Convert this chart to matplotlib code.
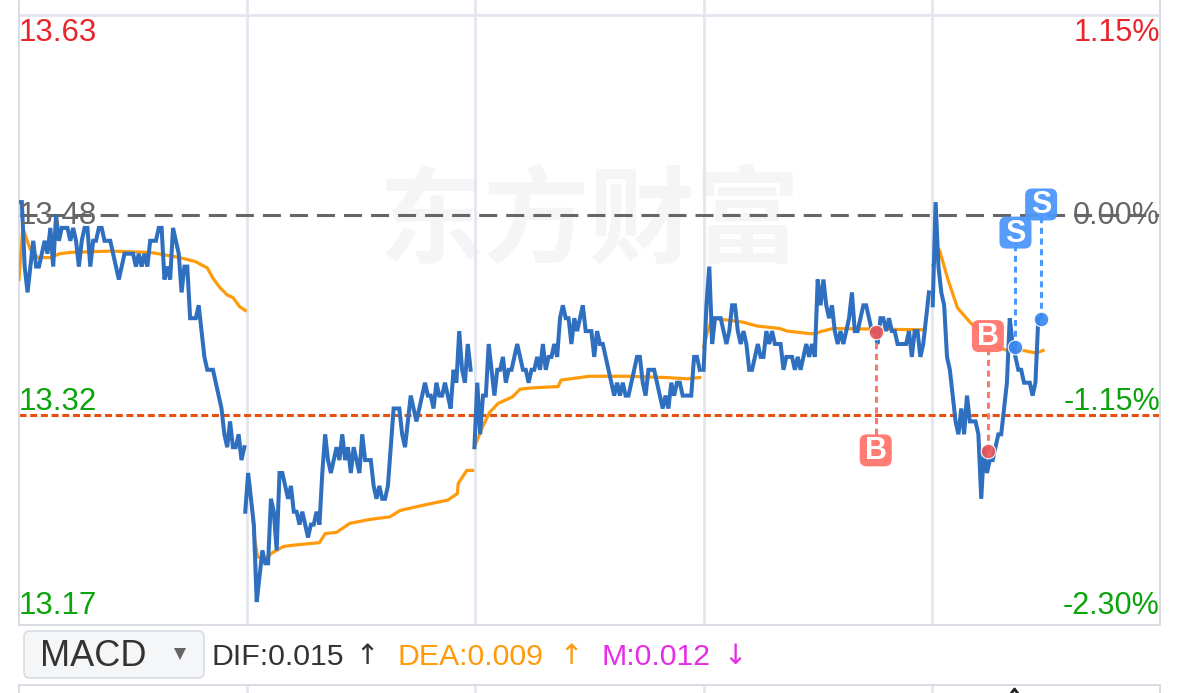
import numpy as np
import matplotlib
matplotlib.use("Agg")
import matplotlib.pyplot as plt
from matplotlib.patches import FancyBboxPatch

# cotizacion cada 3 minutos, en centimos sobre 13.00
day1 = [49, 49, 44, 42, 44, 46, 44, 44, 45, 46, 45, 47, 44, 48, 46, 47, 47, 47, 46, 47,
        46, 44, 46, 47, 47, 44, 46, 46, 47, 47, 46, 46, 46, 45, 44, 43, 44, 45, 45, 45,
        45, 44, 45, 44, 45, 44, 46, 46, 46, 47, 47, 43, 44, 43, 47, 46, 45, 42, 44, 44,
        40, 40, 40, 41, 39, 37, 36, 36, 36, 35, 34, 33, 31, 30, 32, 30, 30, 31, 29, 30]
day2 = [25, 28, 26, 24, 18, 20, 22, 21, 21, 26, 25, 22, 28, 28, 27, 26, 27, 25, 25, 24,
        25, 24, 23, 24, 24, 25, 24, 28, 31, 29, 28, 29, 30, 29, 31, 29, 30, 28, 30, 29,
        28, 31, 29, 29, 29, 27, 26, 27, 26, 26, 27, 30, 33, 33, 33, 31, 30, 32, 34, 33,
        32, 33, 34, 35, 34, 34, 33, 35, 34, 34, 35, 34, 33, 36, 35, 39, 36, 35, 38, 36]
day3 = [30, 35, 31, 34, 34, 38, 36, 34, 36, 36, 37, 35, 36, 36, 37, 38, 37, 36, 36, 35,
        36, 36, 37, 36, 38, 36, 37, 37, 38, 37, 40, 41, 40, 40, 38, 40, 39, 40, 41, 39,
        39, 39, 37, 39, 38, 38, 37, 36, 35, 34, 35, 34, 35, 34, 34, 35, 36, 37, 37, 35,
        34, 36, 36, 36, 35, 34, 33, 34, 33, 35, 34, 35, 35, 34, 34, 34, 34, 37, 37, 36]
day4 = [36, 41, 44, 38, 40, 40, 40, 39, 38, 39, 41, 41, 39, 38, 39, 38, 36, 36, 37, 38,
        37, 37, 39, 38, 39, 38, 38, 38, 36, 37, 37, 37, 36, 37, 36, 37, 38, 37, 38, 37,
        43, 41, 43, 41, 40, 41, 39, 38, 39, 38, 39, 40, 42, 39, 39, 40, 41, 41, 40, 39,
        39, 38, 40, 40, 39, 40, 39, 39, 38, 38, 38, 38, 39, 37, 39, 39, 37, 38, 40, 42]
day5 = [41, 49, 44, 42, 41, 37, 36, 34, 32, 31, 33, 31, 34, 32, 32, 32, 31, 26, 30, 28,
        29, 29, 30, 31, 31, 33, 35, 40, 38, 37, 36, 36, 35, 35, 35, 34, 35, 40]
price_days = [day1, day2, day3, day4, day5]
day_starts = [0, 238, 479, 720, 961]

# linea de precio medio: minuto / centimos
avg_min = [
    [0, 4, 12, 20, 33, 43, 54, 96, 138, 154, 169, 185, 198, 204, 211, 219, 225, 232, 238],
    [245, 248, 251, 259, 266, 278, 288, 316, 322, 334, 348, 369, 390, 401, 425, 451, 461, 462, 471, 477],
    [479, 487, 495, 504, 519, 527, 540, 567, 570, 590, 600, 639, 681, 703, 716],
    [720, 724, 729, 751, 761, 776, 800, 808, 832, 837, 845, 856, 951],
    [961, 968, 977, 987, 1000, 1011, 1028, 1039, 1056, 1070, 1077],
]
avg_cents = [
    [43.0, 47.0, 45.3, 44.7, 44.7, 45.0, 45.1, 45.2, 45.1, 44.9, 44.7, 44.4, 43.9, 43.1, 42.4, 41.8, 41.6, 40.9, 40.6],
    [25.3, 22.8, 21.5, 21.3, 21.8, 22.3, 22.4, 22.6, 23.3, 23.4, 24.1, 24.4, 24.6, 25.1, 25.5, 25.9, 26.4, 27.2, 28.2, 28.2],
    [30.0, 31.5, 32.7, 33.4, 33.9, 34.5, 34.6, 34.7, 35.2, 35.4, 35.5, 35.5, 35.4, 35.3, 35.4],
    [37.8, 38.9, 40.0, 39.8, 39.7, 39.4, 39.2, 39.0, 38.8, 38.8, 39.0, 39.2, 39.1],
    [44.1, 45.3, 43.0, 40.8, 39.7, 38.9, 37.8, 37.5, 37.5, 37.3, 37.5],
]

trade_min = [901, 1019, 1048, 1075]
trade_price = [13.389, 13.297, 13.378, 13.399]
trade_side = ['B', 'B', 'S', 'S']

prev_close = 13.48
ref_line = 13.325
top_price = 13.635
left_labels = ['13.63', '13.48', '13.32', '13.17']
right_labels = ['1.15%', '0.00%', '-1.15%', '-2.30%']
label_colors = ['#e8242c', '#666666', '#0da30d', '#0da30d']
day_lines = [240, 480, 720, 960]

W, H = 1179, 693
FONT = ['Liberation Sans', 'DejaVu Sans']
plt.rcParams['font.family'] = FONT

fig = plt.figure(figsize=(W / 100, H / 100), dpi=100)
px_per_cent = 12.9
ax = fig.add_axes([18.5 / W, (H - 625) / H, 1141.5 / W, 625 / H])
ax.set_xlim(-0.5, 1200)
ax.set_ylim(prev_close - (410 / px_per_cent) / 100, prev_close + (215 / px_per_cent) / 100)
ax.set_xticks([])
ax.set_yticks([])
ax.spines['top'].set_visible(False)
for s in ['left', 'right', 'bottom']:
    ax.spines[s].set_color('#d9dce3')
    ax.spines[s].set_linewidth(1.4)

# marca de agua
ax.text(0.5005, 0.6435, '东方财富', transform=ax.transAxes, ha='center', va='center',
        fontsize=76, fontweight='bold', color='#f5f5f5', family='Noto Sans CJK SC', zorder=0)

for m in day_lines:
    ax.axvline(m, ymin=0.005, color='#e3e6ee', lw=2, zorder=1)
ax.axhline(top_price, color='#e3e6ee', lw=2, zorder=1)

ax.axhline(prev_close, color='#666666', lw=2.2, ls=(0, (5.9, 2.95)), zorder=2)
ax.axhline(ref_line, color='#e8500f', lw=2.2, ls=(0, (2.3, 1.2)), zorder=2)

for start, vals, am, ac in zip(day_starts, price_days, avg_min, avg_cents):
    x = start + 3 * np.arange(len(vals))
    ax.plot(am, 13 + np.array(ac) / 100, color='#ff9a0a', lw=2.3, zorder=3, solid_joinstyle='round')
    ax.plot(x, 13 + np.array(vals) / 100, color='#2f6fc0', lw=2.9, zorder=4, solid_joinstyle='miter')

chrome = fig.add_axes([0, 0, 1, 1], facecolor='none')
chrome.set_xlim(0, W)
chrome.set_ylim(H, 0)
chrome.axis('off')

# etiquetas de los ejes
for ypx, lt, rt, c in zip([33, 216, 402, 606], left_labels, right_labels, label_colors):
    chrome.text(19, ypx, lt, color=c, fontsize=22.5, ha='left', va='center')
    chrome.text(1160, ypx, rt, color=c, fontsize=22, ha='right', va='center')

# senales de compra y venta
side_colors = {'B': ('#ff766c', '#e8575a'), 'S': ('#4d98fb', '#3a88f0')}
badge_off = [118, -115, -114, -115]
fig.canvas.draw()
for m, p, side, off in zip(trade_min, trade_price, trade_side, badge_off):
    badge, dot = side_colors[side]
    xp, yp = ax.transData.transform((m, p))
    yp = H - yp
    yb = yp + off
    chrome.plot([xp, xp], [yp, yb], color=badge, lw=2.2, ls=(0, (2, 1.5)), zorder=2)
    chrome.plot([xp], [yp], 'o', ms=10.5, mfc=dot, mec='white', mew=0.8, alpha=0.92, zorder=3)
    chrome.add_patch(FancyBboxPatch((xp - 16, yb - 16), 32, 32, boxstyle='round,pad=0,rounding_size=7',
                                    fc=badge, ec='none', alpha=0.95, zorder=4))
    chrome.text(xp, yb + 1, side, color='white', fontsize=22, fontweight='bold',
                ha='center', va='center', zorder=5)

# barra inferior con el selector MACD
chrome.add_patch(FancyBboxPatch((24, 631), 180, 47, boxstyle='round,pad=0,rounding_size=6',
                                fc='#f5f6f8', ec='#d8dbe0', lw=1.2))
chrome.text(40, 657, 'MACD', fontsize=26, color='#333333', ha='left', va='center')
chrome.plot([180], [654], 'v', ms=9, color='#666666', mew=0)
chrome.text(211, 657, 'DIF:0.015', fontsize=21.8, color='#333333', ha='left', va='center')
chrome.text(367, 656, '↑', fontsize=20, color='#333333', ha='center', va='center', family='DejaVu Sans')
chrome.text(397, 657, 'DEA:0.009', fontsize=21.8, color='#ff9a0a', ha='left', va='center')
chrome.text(571, 656, '↑', fontsize=20, color='#ff9a0a', ha='center', va='center', family='DejaVu Sans')
chrome.text(601, 657, 'M:0.012', fontsize=21.8, color='#e62ee6', ha='left', va='center')
chrome.text(735, 656, '↓', fontsize=20, color='#e62ee6', ha='center', va='center', family='DejaVu Sans')

# inicio del panel siguiente
chrome.plot([18.5, 1160], [684.5, 684.5], color='#d9dce3', lw=1.4)
chrome.plot([18.5, 18.5], [684.5, H], color='#d9dce3', lw=1.4)
chrome.plot([1160, 1160], [684.5, H], color='#d9dce3', lw=1.4)
for px in [247, 475, 704, 932]:
    chrome.plot([px, px], [687, H], color='#e3e6ee', lw=2)
chrome.plot([1011.5, 1014.5, 1017.5], [H, 689, H], color='#222222', lw=2)

fig.savefig('out.png', dpi=100)
